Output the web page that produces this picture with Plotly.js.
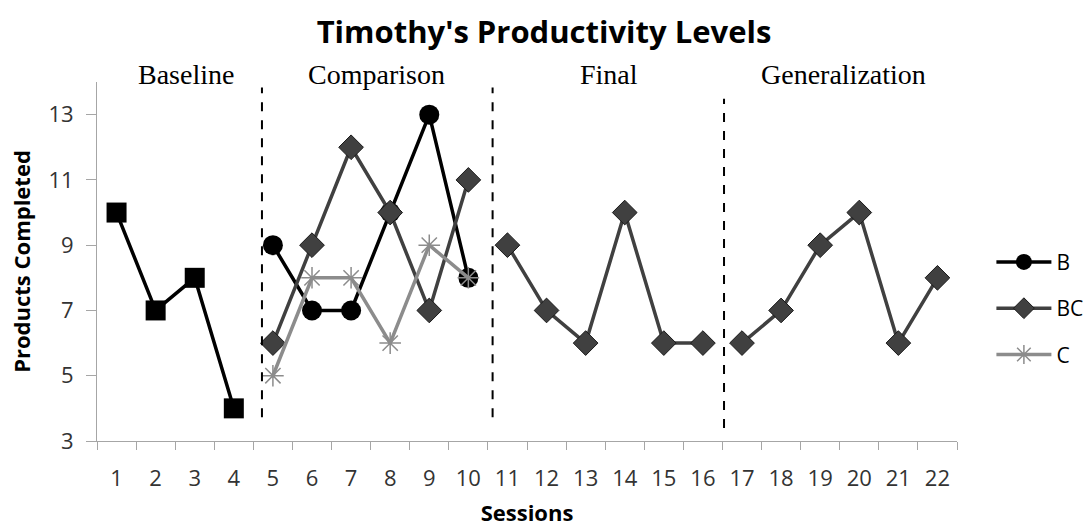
<!DOCTYPE html>
<html>
<head>
<meta charset="utf-8">
<script src="https://cdn.plot.ly/plotly-3.0.1.min.js"></script>
<style>html,body{margin:0;padding:0;background:#fff;}#chart{width:1088px;height:527px;}</style>
</head>
<body>
<div id="chart"></div>
<script>
const sessions = ['1','2','3','4','5','6','7','8','9','10','11','12','13','14','15','16','17','18','19','20','21','22'];
const baselineX = ['1','2','3','4'];
const baselineY = [10, 7, 8, 4];
const comparisonX = ['5','6','7','8','9','10'];
const bY = [9, 7, 7, 10, 13, 8];
const bcComparisonY = [6, 9, 12, 10, 7, 11];
const cY = [5, 8, 8, 6, 9, 8];
const finalX = ['11','12','13','14','15','16'];
const bcFinalY = [9, 7, 6, 10, 6, 6];
const generalizationX = ['17','18','19','20','21','22'];
const bcGeneralizationY = [6, 7, 9, 10, 6, 8];
const phaseLabels = ['Baseline', 'Comparison', 'Final', 'Generalization'];

// layout-only positions (category index units)
const phaseLabelPos = [1.77, 6.64, 12.60, 18.60];
const phaseLinePos = [3.72, 9.62, 15.54];
const phaseLineTop = [13.83, 13.83, 13.49];
const phaseLineBottom = [3.73, 3.73, 3.4];

const fontSans = '"Open Sans", Lato, sans-serif';
const dark = '#404040';
const grayC = '#8c8c8c';
const axisGray = '#a6a6a6';

const bcStyle = {line: {color: dark, width: 3.5}, marker: {symbol: 'diamond', size: 19, color: dark, line: {color: '#1a1a1a', width: 1}}};

const traces = [
  {x: baselineX, y: baselineY, mode: 'lines+markers', name: 'Baseline', showlegend: false,
   line: {color: '#000', width: 3.5}, marker: {symbol: 'square', size: 20, color: '#000'}},
  {x: comparisonX, y: bY, mode: 'lines+markers', name: 'B', legendgroup: 'B',
   line: {color: '#000', width: 3.5}, marker: {symbol: 'circle', size: 20, color: '#000'}},
  Object.assign({x: comparisonX, y: bcComparisonY, mode: 'lines+markers', name: 'BC', legendgroup: 'BC'}, bcStyle),
  {x: comparisonX, y: cY, mode: 'lines+markers', name: 'C', legendgroup: 'C',
   line: {color: grayC, width: 3.5}, marker: {symbol: 'asterisk-open', size: 18, color: grayC, line: {color: grayC, width: 1.5}}},
  Object.assign({x: finalX, y: bcFinalY, mode: 'lines+markers', name: 'BC', legendgroup: 'BC', showlegend: false}, bcStyle),
  Object.assign({x: generalizationX, y: bcGeneralizationY, mode: 'lines+markers', name: 'BC', legendgroup: 'BC', showlegend: false}, bcStyle)
];

const shapes = phaseLinePos.map((x, i) => ({
  type: 'line', xref: 'x', yref: 'y', x0: x, x1: x, y0: phaseLineBottom[i], y1: phaseLineTop[i],
  line: {color: '#000', width: 2, dash: 'dash'}
}));

const annotations = phaseLabels.map((t, i) => ({
  text: t, xref: 'x', yref: 'paper', x: phaseLabelPos[i], xanchor: 'center', y: 1.02, yanchor: 'middle', showarrow: false,
  font: {family: '"Liberation Serif", "Times New Roman", serif', size: 28, color: '#000'}
}));

const layout = {
  width: 1088, height: 527,
  margin: {l: 97, r: 131, t: 82, b: 86, autoexpand: false},
  paper_bgcolor: '#fff', plot_bgcolor: '#fff',
  title: {text: "<b>Timothy's Productivity Levels</b>", x: 0.5, xanchor: 'center', y: 0.939, yanchor: 'middle',
          font: {family: fontSans, size: 31, color: '#000'}},
  xaxis: {
    type: 'category', categoryorder: 'array', categoryarray: sessions,
    range: [-0.5, 21.5], tickson: 'boundaries', ticks: 'outside', ticklen: 8, tickcolor: axisGray,
    showline: true, linecolor: axisGray, linewidth: 1, showgrid: false, zeroline: false,
    tickfont: {family: fontSans, size: 22, color: '#333'}, ticklabelstandoff: 18,
    title: {text: '<b>Sessions</b>', font: {family: fontSans, size: 22, color: '#000'}, standoff: 21}
  },
  yaxis: {
    range: [3, 14], tickvals: [3, 5, 7, 9, 11, 13], ticks: 'outside', ticklen: 10, tickcolor: axisGray,
    showline: true, linecolor: axisGray, linewidth: 1, showgrid: false, zeroline: false,
    tickfont: {family: fontSans, size: 22, color: '#333'}, ticklabelstandoff: 8,
    title: {text: '<b>Products Completed</b>', font: {family: fontSans, size: 22, color: '#000'}, standoff: 11}
  },
  legend: {x: 1.04, xanchor: 'left', y: 0.555, yanchor: 'top', traceorder: 'grouped', tracegroupgap: 16, itemwidth: 55,
           font: {family: fontSans, size: 21, color: '#000'}, bgcolor: 'rgba(0,0,0,0)'},
  shapes: shapes,
  annotations: annotations,
  showlegend: true
};

Plotly.newPlot('chart', traces, layout, {displayModeBar: false, staticPlot: true});
</script>
</body>
</html>
